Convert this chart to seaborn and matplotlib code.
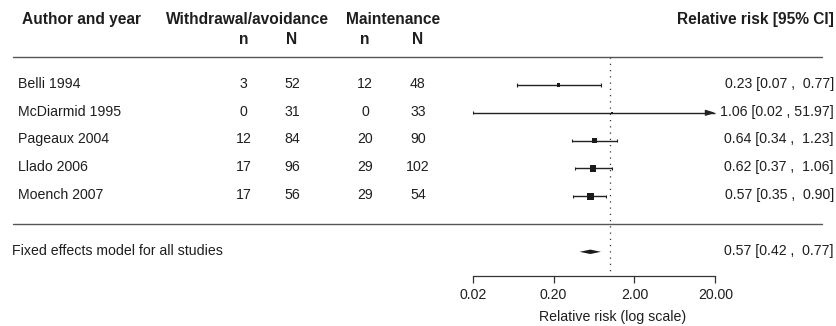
# Forest plot: withdrawal/avoidance vs maintenance, relative risk on log scale
import numpy as np
import matplotlib
matplotlib.use("Agg")
import matplotlib.pyplot as plt
import seaborn as sns
from matplotlib import ticker

# data
studies = ['Belli 1994', 'McDiarmid 1995', 'Pageaux 2004', 'Llado 2006', 'Moench 2007']
wd_n = [3, 0, 12, 17, 17]
wd_N = [52, 31, 84, 96, 56]
mt_n = [12, 0, 20, 29, 29]
mt_N = [48, 33, 90, 102, 54]
rr = [0.23, 1.06, 0.64, 0.62, 0.57]
ci_lo = [0.07, 0.02, 0.34, 0.37, 0.35]
ci_hi = [0.77, 51.97, 1.23, 1.06, 0.90]
fe_label = 'Fixed effects model for all studies'
fe_rr, fe_lo, fe_hi = 0.57, 0.42, 0.77
tick_vals = [0.02, 0.2, 2, 20]

sns.set_theme(style='white')
plt.rcParams['font.family'] = ['Liberation Sans', 'DejaVu Sans']
fs = 10.2
fs_b = 11.2
txt_col = '#1e1e1e'

# row layout (row units, 1..5 for the studies)
rows = np.arange(1, len(studies) + 1)
y_top, y_bot = -2.058, 9.669
r_head, r_sub, r_fe, r_axis = -1.34, -0.65, 7.0, 7.87
dt = -0.04  # small lift of row text relative to the marks

fig = plt.figure(figsize=(8.37, 3.26), dpi=100)

# text / table layer in pixel-like x units
ax_t = fig.add_axes([0, 0, 1, 1])
ax_t.set_xlim(0, 837)
ax_t.set_ylim(y_bot, y_top)
ax_t.axis('off')

bold = dict(fontsize=fs_b, fontweight='bold', color=txt_col, va='center')
norm = dict(fontsize=fs, color=txt_col, va='center')
ax_t.text(22, r_head, 'Author and year', ha='left', **bold)
ax_t.text(247, r_head, 'Withdrawal/avoidance', ha='center', **bold)
ax_t.text(393, r_head, 'Maintenance', ha='center', **bold)
ax_t.text(834, r_head, 'Relative risk [95% CI]', ha='right', **bold)
col_x = [243.5, 292, 365, 418]
for cx, lab in zip(col_x, ['n', 'N', 'n', 'N']):
    ax_t.text(cx, r_sub, lab, ha='center', **bold)

for r, name, a, b, c, d, e, lo, hi in zip(rows, studies, wd_n, wd_N, mt_n, mt_N, rr, ci_lo, ci_hi):
    ax_t.text(18, r + dt, name, ha='left', **norm)
    for cx, v in zip(col_x, [a, b, c, d]):
        ax_t.text(cx, r + dt, str(v), ha='center', **norm)
    ax_t.text(834, r + dt, f'{e:.2f} [{lo:.2f} , {hi:5.2f}]', ha='right', **norm)

ax_t.text(12, r_fe + dt, fe_label, ha='left', **norm)
ax_t.text(834, r_fe + dt, f'{fe_rr:.2f} [{fe_lo:.2f} , {fe_hi:5.2f}]', ha='right', **norm)

for r in [0, 6]:
    ax_t.plot([13, 822], [r, r], color='#555555', lw=1.0)

# forest layer, log scale
x0, x1 = tick_vals[0], tick_vals[-1]
ax = fig.add_axes([472.7 / 837, 0, 242.6 / 837, 1])
ax.patch.set_alpha(0)
ax.set_xscale('log')
ax.set_xlim(x0, x1)
ax.set_ylim(y_bot, y_top)

# reference line at RR = 1
ax.vlines(1, 0, r_axis, colors='#333333', linestyles=(0, (1, 4)), lw=0.9, clip_on=False)

lo_arr, hi_arr = np.array(ci_lo), np.array(ci_hi)
cap = 0.06
for r, lo, hi in zip(rows, lo_arr, hi_arr):
    right = min(hi, x1)
    ax.hlines(r, lo, right, colors='#222222', lw=1.0, clip_on=False)
    ax.vlines(lo, r - cap, r + cap, colors='#222222', lw=0.8, clip_on=False)
    if hi > x1:
        ax.annotate('', xy=(x1, r), xytext=(x1 * 0.8, r),
                    arrowprops=dict(arrowstyle='-|>,head_length=0.45,head_width=0.14',
                                    color='#222222', lw=1.0, shrinkA=0, shrinkB=0),
                    annotation_clip=False)
    else:
        ax.vlines(hi, r - cap, r + cap, colors='#222222', lw=0.8, clip_on=False)

# box size from inverse-variance weights
se = np.log(hi_arr / lo_arr) / 3.92
sw = 1 / se
wn = (sw - sw.min()) / (sw.max() - sw.min())
side_pt = (2.5 + 4.2 * wn) * 0.72
sns.scatterplot(x=rr, y=rows, s=side_pt ** 2, marker='s', color='#1a1a1a',
                linewidth=0, ax=ax, legend=False, clip_on=False, zorder=3)

# summary diamond
h = 0.08
ax.fill([fe_lo, fe_rr, fe_hi, fe_rr], [r_fe, r_fe - h, r_fe, r_fe + h],
        color='#1a1a1a', lw=0, clip_on=False)

# x axis
for s in ['top', 'left', 'right']:
    ax.spines[s].set_visible(False)
ax.spines['bottom'].set_position(('data', r_axis))
ax.spines['bottom'].set_bounds(x0, x1)
ax.spines['bottom'].set_color('#333333')
ax.spines['bottom'].set_linewidth(0.9)
ax.xaxis.set_major_locator(ticker.FixedLocator(tick_vals))
ax.xaxis.set_minor_locator(ticker.NullLocator())
ax.xaxis.set_major_formatter(ticker.FuncFormatter(lambda v, _: f'{v:.2f}'))
ax.tick_params(axis='x', direction='out', length=5, width=0.9, color='#333333',
               labelsize=fs, labelcolor=txt_col, pad=3.5, bottom=True)
ax.set_yticks([])
ax.set_xlabel('Relative risk (log scale)', fontsize=fs, color=txt_col)
ax.xaxis.set_label_coords(0.578, (y_bot - 9.36) / (y_bot - y_top))
ax.xaxis.label.set_va('center')

fig.savefig('out.png', dpi=100)
